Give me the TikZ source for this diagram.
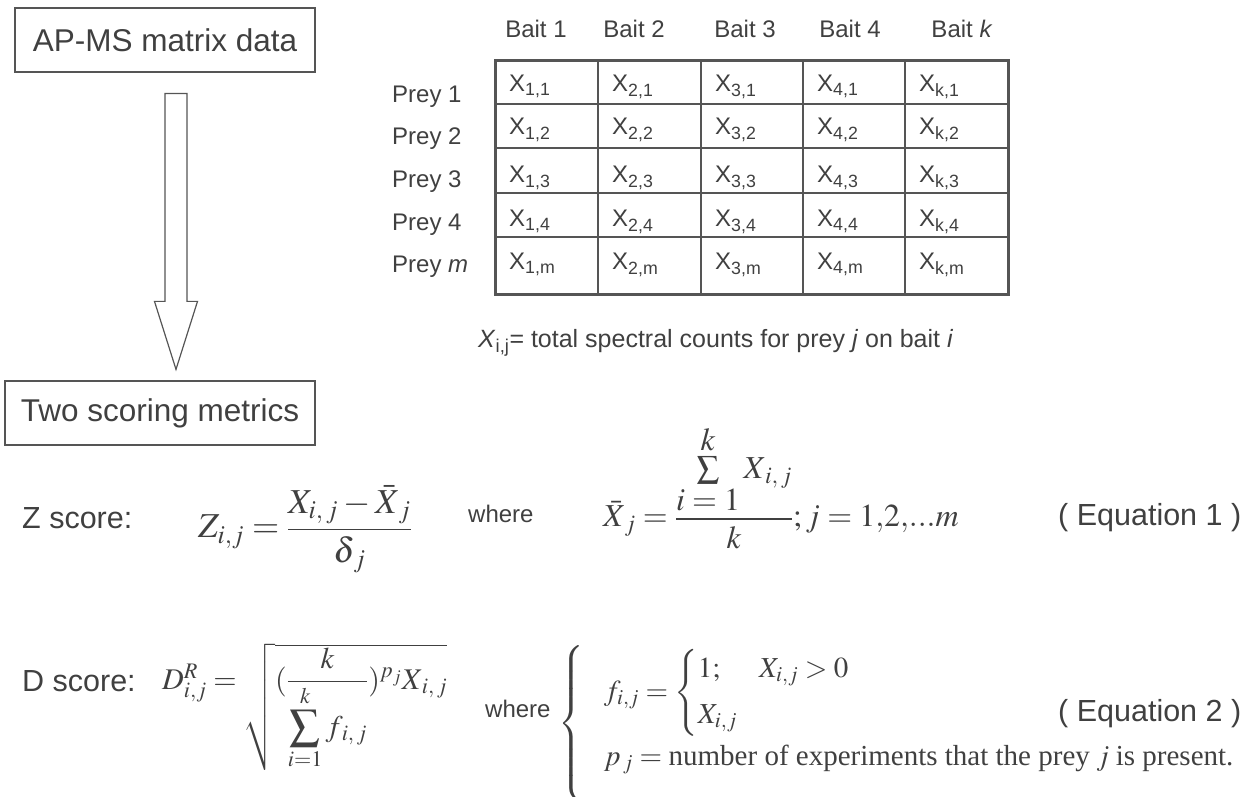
\documentclass[tikz,border=0pt]{standalone}
\usepackage{amsmath}
\usepackage{mathptmx}
\usepackage{fontspec}
\setmainfont{Liberation Sans}
\newfontfamily\timesfont{Liberation Serif}
\usepackage{xcolor}
\usepackage{tikz}
\usetikzlibrary{positioning,calc}

\definecolor{ink}{HTML}{404040}
\definecolor{rule}{HTML}{555555}

\tikzset{
  stagebox/.style={draw=rule, line width=1.2pt, inner sep=0pt, text=ink,
    font=\fontsize{31.5}{36}\selectfont},
  hdr/.style={anchor=base, inner sep=0pt, text=ink, font=\fontsize{24}{28}\selectfont},
  rowlbl/.style={anchor=base west, inner sep=0pt, text=ink, font=\fontsize{24}{28}\selectfont},
  cell/.style={anchor=base west, inner sep=0pt, text=ink, font=\fontsize{24}{28}\selectfont},
  lbl/.style={anchor=base west, inner sep=0pt, text=ink, font=\fontsize{30.5}{36}\selectfont},
  small/.style={anchor=base west, inner sep=0pt, text=ink, font=\fontsize{24}{28}\selectfont},
  mth/.style={anchor=base west, inner sep=0pt, text=ink}
}

\begin{document}
\begin{tikzpicture}[x=1pt, y=1pt]
\useasboundingbox (0,0) rectangle (1259,796);
% left column: the two stages and the block arrow
\node[stagebox, minimum width=300, minimum height=64] (data) at (165,756) {AP-MS matrix data};
\node[stagebox, minimum width=310, minimum height=64] (metrics) at (160,383) {Two scoring metrics};
\coordinate (atop) at ($(data.south)+(11,-21)$);
\coordinate (atip) at ($(metrics.north)+(16,11)$);
\draw[rule, line width=1.2pt, line join=miter]
  ($(atop)+(-11,0)$) -- ($(atop)+(11,0)$) -- ($(atip)+(11,68)$) -- ($(atip)+(21.5,68)$)
  -- (atip) -- ($(atip)+(-21.5,68)$) -- ($(atip)+(-11,68)$) -- cycle;

% matrix grid
\foreach \x in {598,701,803,905}
  \draw[rule, line width=1.2pt] (\x,735) -- (\x,501);
\foreach \y in {692,648,603,559}
  \draw[rule, line width=1.2pt] (495,\y) -- (1008,\y);
\draw[rule, line width=3pt] (495,735) rectangle (1008,501);

% bait and prey labels
\foreach \n/\bx/\bl in {1/536/1, 2/634/2, 3/745/3, 4/850/4, 5/962/\textit{k}}
  \node[hdr] (bait\n) at (\bx,758) {Bait \bl};
\foreach \n/\py/\pl in {1/693/1, 2/651/2, 3/608/3, 4/565/4, 5/523/\textit{m}}
  \node[rowlbl] (prey\n) at (392,\py) {Prey \pl};

% cells
\foreach \c/\cx/\ci in {1/509/1, 2/612/2, 3/715/3, 4/817/4, 5/919/k}
  \foreach \r/\ry/\rj in {1/704/1, 2/661/2, 3/613/3, 4/569/4, 5/526/m}
    \node[cell] (x\c\r) at (\cx,\ry) {X\textsubscript{\ci,\rj}};

\node[anchor=base west, inner sep=0pt, text=ink, font=\fontsize{25}{30}\selectfont] (legend) at (478,448)
  {\textit{X}\textsubscript{i,j}= total spectral counts for prey \textit{j} on bait \textit{i}};

% equation 1
\node[lbl] (zlbl) at (22,267) {Z score:};
\node[mth, font=\fontsize{35}{40}\selectfont] (zdef) at (198,258)
  {$Z_{i,j} = \dfrac{X_{i,\,j} - \bar{X}_{\,j}}{\delta_{\,j}}$};
\node[small] (zwhere) at (468,273) {where};
\node[mth, font=\fontsize{32}{38}\selectfont] (xbar) at (603,269)
  {$\bar{X}_{\,j} = \dfrac{\mathop{\textstyle\sum}\limits_{\textstyle i=1}^{\textstyle k} X_{\,i,\,j}}{k}; j = 1{,}2{,}...m$};
\node[lbl] (eq1) at (1058,270) {( Equation 1 )};

% equation 2
\node[lbl] (dlbl) at (22,105) {D score:};
\node[mth, font=\fontsize{30}{36}\selectfont] (ddef) at (162,107)
  {$D^{R}_{i,j} = \sqrt{(\dfrac{k}{\displaystyle\sum_{i=1}^{k} f_{\,i,\,j}})^{p_j} X_{\,i,\,j}}$};
\node[small] (dwhere) at (485,79) {where};
\node[anchor=west, inner sep=0pt, text=ink, font=\fontsize{29}{32}\selectfont] (fdef) at (558,72.5)
  {$\left\{\begin{array}{@{\hspace{20pt}}l@{}}
    \rule{0pt}{51pt}f_{i,j} = \begin{cases} 1; \quad\; X_{i,j} > 0 \\[8pt] X_{i,j} \end{cases} \\[33pt]
    p_{\,j} = \text{\timesfont number of experiments that the prey} \; j \; \text{\timesfont is present.}\rule[-33pt]{0pt}{33pt}
  \end{array}\right.$};
\node[lbl] (eq2) at (1058,75) {( Equation 2 )};
\end{tikzpicture}
\end{document}
